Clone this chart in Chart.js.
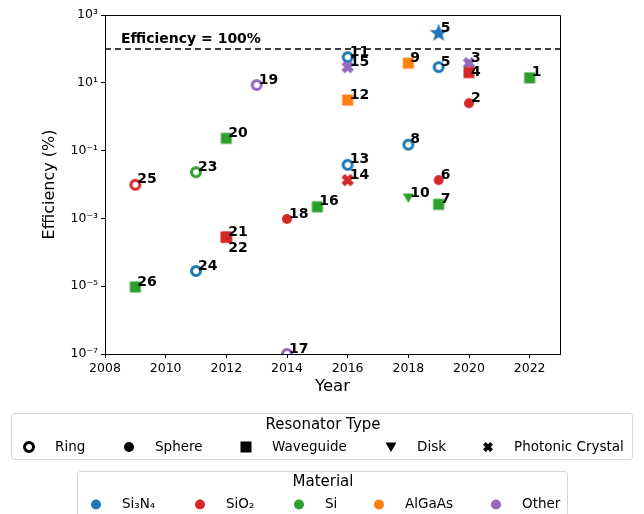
<!DOCTYPE html>
<html>
<head>
<meta charset="utf-8">
<script src="https://cdn.jsdelivr.net/npm/chart.js@4"></script>
<style>
  body { margin: 0; background: #fff; }
  #wrap { width: 644px; height: 514px; position: relative; }
</style>
</head>
<body>
<div id="wrap"><canvas id="grafico"></canvas></div>
<script>
// Datos
const etiquetas = ['1', '2', '3', '4', '5', '5', '6', '7', '8', '9', '10', '11', '12', '13', '14',
  '15', '16', '17', '18', '19', '20', '21', '22', '23', '24', '25', '26'];
const anios = [2022, 2020, 2020, 2020, 2019, 2019, 2019, 2019, 2018, 2018, 2018, 2016, 2016, 2016, 2016,
  2016, 2015, 2014, 2014, 2013, 2012, 2012, 2012, 2011, 2011, 2009, 2009];
const eficiencia = [14, 2.5, 38, 20, 290, 29, 0.0135, 0.0026, 0.15, 38, 0.004, 57, 3.1, 0.038, 0.0135,
  29, 0.0022, 1e-7, 0.00096, 8.6, 0.23, 0.00028, 0.00028, 0.023, 2.8e-5, 0.0098, 9.5e-6];
const materiales = ['Si', 'SiO2', 'Other', 'SiO2', 'Si3N4', 'Si3N4', 'SiO2', 'Si', 'Si3N4', 'AlGaAs', 'Si',
  'Si3N4', 'AlGaAs', 'Si3N4', 'SiO2', 'Other', 'Si', 'Other', 'SiO2', 'Other', 'Si', 'SiO2', 'SiO2',
  'Si', 'Si3N4', 'SiO2', 'Si'];
const tipos = ['Waveguide', 'Sphere', 'Photonic Crystal', 'Waveguide', 'Star', 'Ring', 'Sphere', 'Waveguide',
  'Ring', 'Waveguide', 'Disk', 'Ring', 'Waveguide', 'Ring', 'Photonic Crystal', 'Photonic Crystal',
  'Waveguide', 'Ring', 'Sphere', 'Ring', 'Waveguide', 'Waveguide', 'Waveguide', 'Ring', 'Ring', 'Ring',
  'Waveguide'];
const ticksY = [1e-7, 1e-5, 1e-3, 1e-1, 10, 1000];
const lineaCien = 100;

const tiposLeyenda = ['Ring', 'Sphere', 'Waveguide', 'Disk', 'Photonic Crystal'];
const materialesLeyenda = ['Si3N4', 'SiO2', 'Si', 'AlGaAs', 'Other'];
const nombresMaterial = { Si3N4: 'Si₃N₄', SiO2: 'SiO₂', Si: 'Si', AlGaAs: 'AlGaAs', Other: 'Other' };
const colores = { Si3N4: '#1f77b4', SiO2: '#d62728', Si: '#2ca02c', AlGaAs: '#ff7f0e', Other: '#9467bd' };

// desplazamientos especiales de las etiquetas
const ajusteEtiqueta = { '22': 16, '4': 5 };

const FUENTE = "'DejaVu Sans', sans-serif";
Chart.defaults.font.family = FUENTE;
Chart.defaults.color = '#000';

// marcadores dibujados en un canvas pequeño
function marcador(tipo, color, escala) {
  const k = escala || 1;
  const c = document.createElement('canvas');
  const s = tipo === 'Star' ? 22 : 16;
  c.width = s; c.height = s;
  const g = c.getContext('2d');
  const m = s / 2;
  g.fillStyle = color;
  g.strokeStyle = color;
  if (tipo === 'Ring') {
    g.lineWidth = 3;
    g.fillStyle = '#fff';
    g.beginPath(); g.arc(m, m, 4.5, 0, 2 * Math.PI); g.fill(); g.stroke();
  } else if (tipo === 'Sphere') {
    g.beginPath(); g.arc(m, m, 5, 0, 2 * Math.PI); g.fill();
  } else if (tipo === 'Waveguide') {
    g.fillRect(m - 5.5, m - 5.5, 11, 11);
  } else if (tipo === 'Disk') {
    g.beginPath(); g.moveTo(m - 5.5, m - 4.5); g.lineTo(m + 5.5, m - 4.5); g.lineTo(m, m + 5); g.closePath(); g.fill();
  } else if (tipo === 'Photonic Crystal') {
    const d = 4.5 * k;
    g.lineWidth = 4.8 * k;
    g.beginPath();
    g.moveTo(m - d, m - d); g.lineTo(m + d, m + d);
    g.moveTo(m + d, m - d); g.lineTo(m - d, m + d);
    g.stroke();
  } else if (tipo === 'Star') {
    g.beginPath();
    for (let i = 0; i < 10; i++) {
      const r = i % 2 === 0 ? 9.5 : 4;
      const a = -Math.PI / 2 + i * Math.PI / 5;
      const px = m + r * Math.cos(a), py = m + r * Math.sin(a);
      if (i === 0) g.moveTo(px, py); else g.lineTo(px, py);
    }
    g.closePath(); g.fill();
  }
  return c;
}

const estilos = tipos.map((t, i) => marcador(t, colores[materiales[i]]));

function caja(ctx, x, y, w, h) {
  ctx.save();
  ctx.fillStyle = 'rgba(255,255,255,0.8)';
  ctx.strokeStyle = '#d4d4d4';
  ctx.lineWidth = 1;
  ctx.beginPath();
  ctx.roundRect(x + 0.5, y + 0.5, w, h, 3);
  ctx.fill(); ctx.stroke();
  ctx.restore();
}

const extras = {
  id: 'extras',
  beforeDatasetsDraw(chart) {
    const { ctx, chartArea: a, scales: { y } } = chart;
    const yy = y.getPixelForValue(lineaCien);
    ctx.save();
    ctx.strokeStyle = '#000';
    ctx.lineWidth = 1.5;
    ctx.setLineDash([6, 4]);
    ctx.beginPath(); ctx.moveTo(a.left, yy); ctx.lineTo(a.right, yy); ctx.stroke();
    ctx.setLineDash([]);
    ctx.fillStyle = '#000';
    ctx.font = 'bold 14px ' + FUENTE;
    ctx.textBaseline = 'middle';
    ctx.fillText('Efficiency = 100%', a.left + 16, yy - 10);
    ctx.restore();
  },
  afterDatasetsDraw(chart) {
    const { ctx, chartArea: a, scales: { x, y } } = chart;
    ctx.save();
    // marco superior y derecho
    ctx.strokeStyle = '#000';
    ctx.lineWidth = 1;
    ctx.beginPath();
    ctx.moveTo(a.left, a.top + 0.5); ctx.lineTo(a.right + 0.5, a.top + 0.5); ctx.lineTo(a.right + 0.5, a.bottom);
    ctx.stroke();
    // etiquetas numéricas
    ctx.fillStyle = '#000';
    ctx.font = 'bold 14px ' + FUENTE;
    ctx.textBaseline = 'middle';
    etiquetas.forEach((t, i) => {
      const px = x.getPixelForValue(anios[i]);
      const py = y.getPixelForValue(eficiencia[i]);
      const dy = ajusteEtiqueta[t] !== undefined ? ajusteEtiqueta[t] : 0;
      ctx.fillText(t, px + 2, py - 5 + dy);
    });
    ctx.restore();
  },
  afterDraw(chart) {
    const { ctx } = chart;
    ctx.save();
    // leyenda: tipo de resonador
    caja(ctx, 11, 413, 621, 46);
    ctx.fillStyle = '#000';
    ctx.textBaseline = 'middle';
    ctx.textAlign = 'center';
    ctx.font = '15px ' + FUENTE;
    ctx.fillText('Resonator Type', 323, 425);
    ctx.textAlign = 'left';
    ctx.font = '13.5px ' + FUENTE;
    const xt = [29, 129, 246, 391, 488];
    tiposLeyenda.forEach((t, i) => {
      const mk = marcador(t, '#000', 0.8);
      ctx.drawImage(mk, xt[i] - mk.width / 2, 447 - mk.height / 2);
      ctx.fillText(t, xt[i] + 26, 447);
    });
    // leyenda: material
    caja(ctx, 77, 471, 490, 50);
    ctx.textAlign = 'center';
    ctx.font = '15px ' + FUENTE;
    ctx.fillText('Material', 323, 482);
    ctx.textAlign = 'left';
    ctx.font = '13.5px ' + FUENTE;
    const xm = [96, 200, 299, 379, 496];
    materialesLeyenda.forEach((mat, i) => {
      ctx.fillStyle = colores[mat];
      ctx.beginPath(); ctx.arc(xm[i], 504.5, 5, 0, 2 * Math.PI); ctx.fill();
      ctx.fillStyle = '#000';
      ctx.fillText(nombresMaterial[mat], xm[i] + 26, 504);
    });
    ctx.restore();
  }
};

const sup = { '-': '⁻', '0': '⁰', '1': '¹', '2': '²', '3': '³', '4': '⁴', '5': '⁵', '6': '⁶', '7': '⁷', '8': '⁸', '9': '⁹' };

const ctxGrafico = document.getElementById('grafico').getContext('2d');
const miGrafico = new Chart(ctxGrafico, {
  type: 'scatter',
  data: {
    datasets: [{
      label: 'Efficiency',
      data: anios.map((a, i) => ({ x: a, y: eficiencia[i] })),
      pointStyle: c => estilos[c.dataIndex],
      pointRadius: 6,
      clip: 0
    }]
  },
  options: {
    responsive: true,
    maintainAspectRatio: false,
    animation: false,
    layout: { padding: { left: 36, top: 15, right: 84, bottom: 113 } },
    plugins: { legend: { display: false }, tooltip: { enabled: false } },
    scales: {
      x: {
        type: 'linear',
        min: 2008,
        max: 2023,
        afterFit: s => { s.height = 47; },
        grid: { drawOnChartArea: false, drawTicks: true, tickLength: 4, color: '#000' },
        border: { display: true, color: '#000', width: 1 },
        ticks: { stepSize: 2, includeBounds: false, maxRotation: 0, font: { size: 12.5 }, padding: 3,
          callback: v => String(v) },
        title: { display: true, text: 'Year', font: { size: 16.5 } }
      },
      y: {
        type: 'logarithmic',
        min: 1e-7,
        max: 1e3,
        afterFit: s => { s.width = 69; },
        afterBuildTicks: s => { s.ticks = ticksY.map(v => ({ value: v })); },
        grid: { drawOnChartArea: false, drawTicks: true, tickLength: 4, color: '#000' },
        border: { display: true, color: '#000', width: 1 },
        ticks: { font: { size: 12.5 }, padding: 3, autoSkip: false,
          callback: v => '10' + String(Math.round(Math.log10(v))).split('').map(c => sup[c]).join('') },
        title: { display: true, text: 'Efficiency (%)', font: { size: 16 } }
      }
    }
  },
  plugins: [extras]
});
</script>
</body>
</html>
